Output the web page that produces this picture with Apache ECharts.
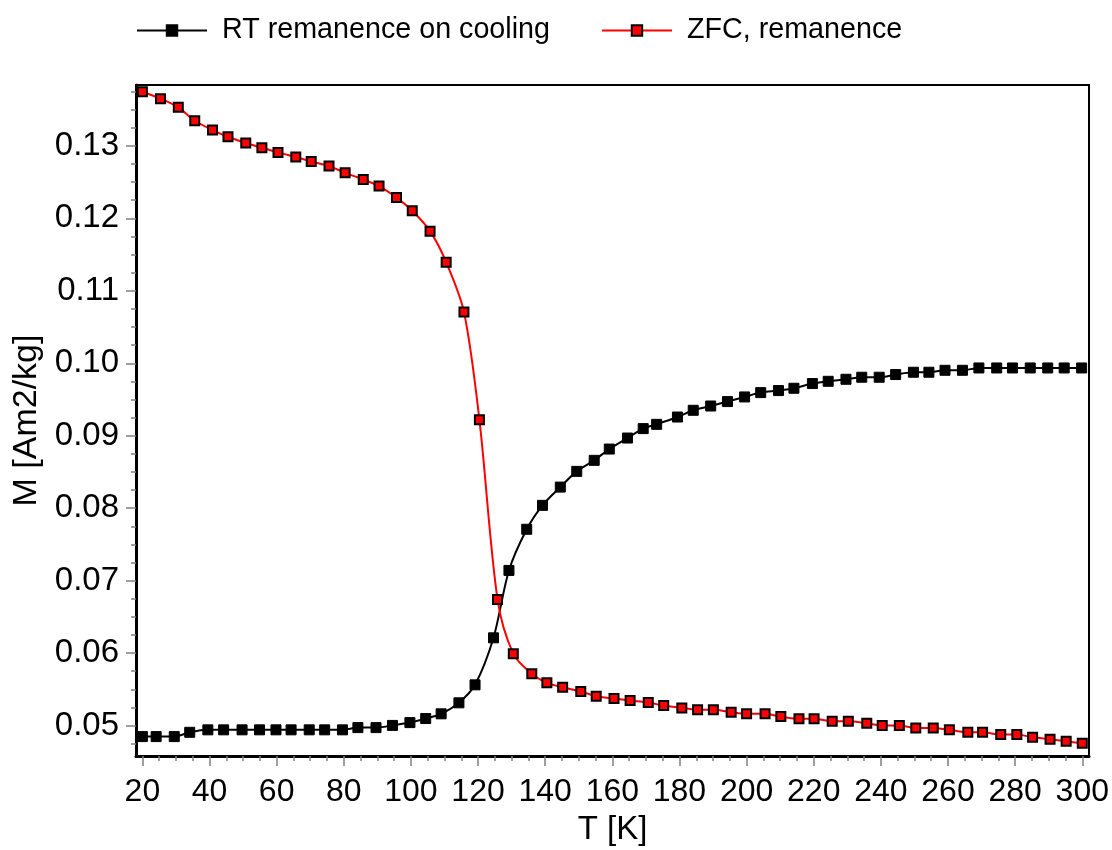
<!DOCTYPE html>
<html>
<head>
<meta charset="utf-8">
<script src="https://cdn.jsdelivr.net/npm/echarts@6/dist/echarts.min.js"></script>
<style>
html, body { margin: 0; padding: 0; background: #fff; }
#chart { width: 1112px; height: 850px; }
</style>
</head>
<body>
<div id="chart"></div>
<script>
// RT remanence on cooling
var rtT = [20, 24.1, 29.5, 34.1, 39.5, 44.2, 49.7, 54.9, 59.8, 64.3,
	69.7, 74.3, 79.6, 84.2, 89.6, 94.5, 99.7, 104.4, 109.0, 114.3,
	119.1, 124.6, 129.2, 134.5, 139.2, 144.5, 149.4, 154.6, 159.1, 164.5,
	169.2, 173.2, 179.4, 184.1, 189.3, 194.3, 199.4, 204.2, 209.5, 214.1,
	219.6, 224.3, 229.6, 234.3, 239.5, 244.4, 249.7, 254.3, 259.1, 264.3,
	269.2, 274.5, 279.2, 284.5, 289.7, 294.6, 299.8];
var rtM = [0.04848, 0.04848, 0.04848, 0.04907, 0.04941, 0.04941, 0.04941, 0.04941, 0.04941, 0.04941,
	0.04941, 0.04941, 0.04941, 0.04972, 0.04972, 0.05002, 0.05041, 0.05097, 0.05162, 0.05314,
	0.05562, 0.06211, 0.07141, 0.07709, 0.08039, 0.08291, 0.08508, 0.0866, 0.08816, 0.08968,
	0.09098, 0.09157, 0.09258, 0.09351, 0.0941, 0.09471, 0.09535, 0.09595, 0.09623, 0.09655,
	0.0972, 0.09751, 0.09779, 0.09807, 0.09807, 0.09844, 0.09876, 0.09876, 0.09903, 0.09903,
	0.09935, 0.09935, 0.09935, 0.09935, 0.09935, 0.09935, 0.09935];

// ZFC, remanence
var zfcT = [20, 25.4, 30.7, 35.6, 40.9, 45.5, 50.8, 55.6, 60.4, 65.7,
	70.3, 75.6, 80.4, 85.8, 90.5, 95.7, 100.4, 105.7, 110.5, 115.8,
	120.4, 125.8, 130.5, 136.0, 140.5, 145.2, 150.6, 155.2, 160.5, 165.3,
	170.7, 175.3, 180.7, 185.4, 190.1, 195.4, 200.0, 205.5, 210.2, 215.6,
	220.1, 225.5, 230.3, 235.8, 240.4, 245.5, 250.4, 255.6, 260.4, 265.9,
	270.3, 275.7, 280.5, 285.2, 290.4, 295.2, 300];
var zfcM = [0.13747, 0.13651, 0.13532, 0.13347, 0.13218, 0.13126, 0.13039, 0.12974, 0.1291, 0.12845,
	0.12786, 0.12721, 0.12628, 0.12537, 0.12445, 0.12286, 0.12104, 0.11823, 0.11395, 0.10709,
	0.09222, 0.0674, 0.0599, 0.05714, 0.0559, 0.05529, 0.0547, 0.05405, 0.05373, 0.05345,
	0.05318, 0.05276, 0.05244, 0.05217, 0.05217, 0.05184, 0.05162, 0.05162, 0.05124, 0.05093,
	0.05093, 0.05059, 0.05059, 0.05032, 0.05, 0.05, 0.04968, 0.04968, 0.04941, 0.04907,
	0.04907, 0.04876, 0.04876, 0.04838, 0.04811, 0.04783, 0.04756];

// axis ticks and labels
var xTicks = [20, 40, 60, 80, 100, 120, 140, 160, 180, 200, 220, 240, 260, 280, 300];
var xMinorTicks = [25, 30, 35, 45, 50, 55, 65, 70, 75, 85, 90, 95, 105, 110, 115,
	125, 130, 135, 145, 150, 155, 165, 170, 175, 185, 190, 195, 205, 210, 215,
	225, 230, 235, 245, 250, 255, 265, 270, 275, 285, 290, 295];
var yTicks = [0.05, 0.06, 0.07, 0.08, 0.09, 0.10, 0.11, 0.12, 0.13];
var yMinorTicks = [0.0475, 0.0525, 0.055, 0.0575, 0.0625, 0.065, 0.0675, 0.0725, 0.075, 0.0775,
	0.0825, 0.085, 0.0875, 0.0925, 0.095, 0.0975, 0.1025, 0.105, 0.1075, 0.1125,
	0.115, 0.1175, 0.1225, 0.125, 0.1275, 0.1325, 0.135, 0.1375];

function pairs(xs, ys) {
	var out = [];
	for (var i = 0; i < xs.length; i++) out.push([xs[i], ys[i]]);
	return out;
}

var font = '"Liberation Sans", Arial, sans-serif';
var xMin = 18.1, xMax = 302, yMin = 0.0458, yMax = 0.1384;

var myChart = echarts.init(document.getElementById('chart'));
var option = {
	animation: false,
	backgroundColor: '#fff',
	legend: {
		left: 131,
		top: 11,
		itemWidth: 70,
		itemHeight: 13,
		itemGap: 51,
		textStyle: {
			fontFamily: font,
			fontSize: 28.7,
			color: '#000',
			padding: [0, 0, 0, 10]
		},
		data: ['RT remanence on cooling', 'ZFC, remanence']
	},
	grid: {
		left: 136,
		right: 23,
		top: 85,
		bottom: 94,
		show: true,
		borderColor: '#000',
		borderWidth: 2,
		outerBoundsMode: 'none'
	},
	xAxis: [{
		type: 'value',
		position: 'bottom',
		min: xMin,
		max: xMax,
		name: 'T [K]',
		nameLocation: 'middle',
		nameGap: 57,
		nameTextStyle: { fontFamily: font, fontSize: 33, color: '#000' },
		splitLine: { show: false },
		axisLine: { show: true, lineStyle: { color: '#000', width: 3 } },
		axisTick: { show: true, customValues: xTicks, length: 10, lineStyle: { color: '#808080', width: 1.5 } },
		axisLabel: { customValues: xTicks, margin: 20, fontFamily: font, fontSize: 32, color: '#000' }
	}, {
		type: 'value',
		position: 'bottom',
		min: xMin,
		max: xMax,
		splitLine: { show: false },
		axisLine: { show: false },
		axisTick: { show: true, customValues: xMinorTicks, length: 5, lineStyle: { color: '#808080', width: 1.5 } },
		axisLabel: { show: false }
	}],
	yAxis: [{
		type: 'value',
		position: 'left',
		min: yMin,
		max: yMax,
		name: 'M [Am2/kg]',
		nameLocation: 'middle',
		nameGap: 91,
		nameTextStyle: { fontFamily: font, fontSize: 34, color: '#000' },
		splitLine: { show: false },
		axisLine: { show: true, lineStyle: { color: '#000', width: 3 } },
		axisTick: { show: true, customValues: yTicks, length: 10, lineStyle: { color: '#808080', width: 1.5 } },
		axisLabel: {
			customValues: yTicks, margin: 17, fontFamily: font, fontSize: 33, color: '#000',
			formatter: function (v) { return v.toFixed(2); }
		}
	}, {
		type: 'value',
		position: 'left',
		min: yMin,
		max: yMax,
		splitLine: { show: false },
		axisLine: { show: false },
		axisTick: { show: true, customValues: yMinorTicks, length: 5, lineStyle: { color: '#808080', width: 1.5 } },
		axisLabel: { show: false }
	}],
	series: [{
		name: 'RT remanence on cooling',
		type: 'line',
		xAxisIndex: 0,
		yAxisIndex: 0,
		smooth: 0.3,
		symbol: 'rect',
		symbolSize: 10,
		lineStyle: { color: '#000', width: 2 },
		itemStyle: { color: '#000', borderColor: '#000', borderWidth: 1 },
		data: pairs(rtT, rtM)
	}, {
		name: 'ZFC, remanence',
		type: 'line',
		xAxisIndex: 0,
		yAxisIndex: 0,
		smooth: 0.3,
		symbol: 'rect',
		symbolSize: 9,
		lineStyle: { color: '#ff0000', width: 2 },
		itemStyle: { color: '#ff0000', borderColor: '#000', borderWidth: 2 },
		data: pairs(zfcT, zfcM)
	}]
};
myChart.setOption(option);
</script>
</body>
</html>
